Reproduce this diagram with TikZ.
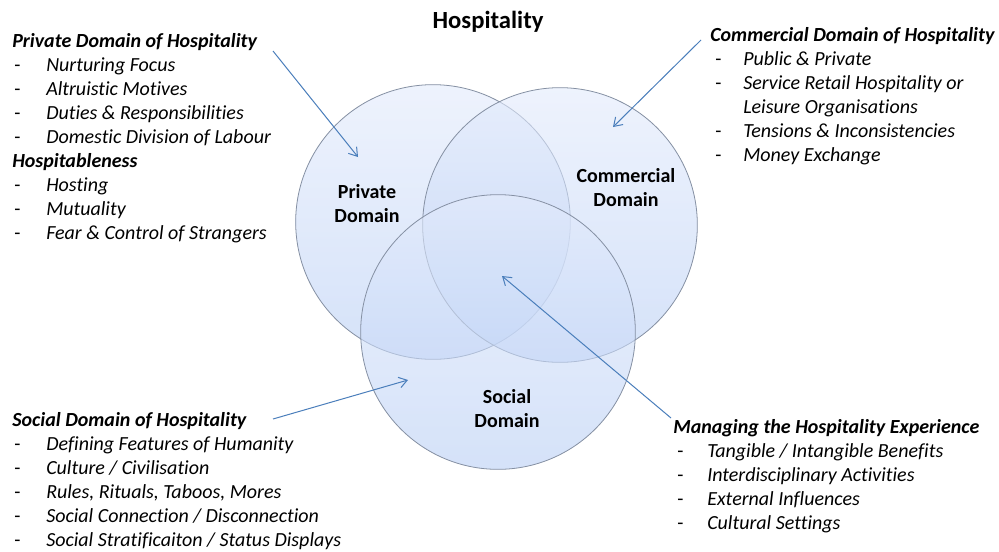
\documentclass[tikz,border=0pt]{standalone}
\usepackage{fontspec}
\setmainfont{Carlito}[Ligatures=NoCommon]
\usetikzlibrary{arrows.meta}
\definecolor{arrowblue}{HTML}{4A7EBB}
\definecolor{ringgray}{HTML}{8590A3}
\definecolor{circtop}{HTML}{E3EBFC}
\definecolor{circbot}{HTML}{B9CFF5}
\newcommand\itm[1]{-&\textit{#1}\\}
\newcommand\cont[1]{&\textit{#1}\\}
\newcommand\hdr[1]{\multicolumn{2}{@{}l@{}}{\bfseries\itshape #1}\\}
\tikzset{
  venn/.style={circle, minimum size=206pt, inner sep=0pt, draw=ringgray, line width=0.6pt,
    top color=circtop, bottom color=circbot, fill opacity=0.6, draw opacity=1},
  lbl/.style={font=\fontsize{15}{18}\selectfont\bfseries, inner sep=0pt, anchor=base},
  blk/.style={font=\fontsize{15}{18}\selectfont, inner sep=0pt, anchor=base west},
  pointer/.style={draw=arrowblue, line width=0.75pt, -{Straight Barb[length=6pt,width=8pt,line width=0.75pt]}}
}
\begin{document}
\begin{tikzpicture}[x=0.75pt,y=-0.75pt]
\useasboundingbox (0,0) rectangle (999,551);
\fill[white] (0,0) rectangle (999,551);
% circles
\node[venn] (priv) at (433,222) {};
\node[venn] (comm) at (560,225) {};
\node[venn] (soc) at (498,332) {};
% title
\node[font=\fontsize{18.5}{22}\selectfont\bfseries, inner sep=0pt, anchor=base] (title) at (488,28) {Hospitality};
% circle labels
\node[lbl] (privlbl) at (367,198) {\begin{tabular}[t]{@{}c@{}}Private\\Domain\end{tabular}};
\node[lbl] (commlbl) at (626,182) {\begin{tabular}[t]{@{}c@{}}Commercial\\Domain\end{tabular}};
\node[lbl] (soclbl) at (507,403) {\begin{tabular}[t]{@{}c@{}}Social\\Domain\end{tabular}};
% text blocks
\node[blk] (privtxt) at (12,47) {\begin{tabular}[t]{@{\hspace{1.5pt}}p{24pt}@{}l@{}}
\hdr{Private Domain of Hospitality}
\itm{Nurturing Focus}
\itm{Altruistic Motives}
\itm{Duties \& Responsibilities}
\itm{Domestic Division of Labour}
\hdr{Hospitableness}
\itm{Hosting}
\itm{Mutuality}
\itm{Fear \& Control of Strangers}
\end{tabular}};
\node[blk] (commtxt) at (710,41) {\begin{tabular}[t]{@{\hspace{3.75pt}}p{21pt}@{}l@{}}
\hdr{Commercial Domain of Hospitality}
\itm{Public \& Private}
\itm{Service Retail Hospitality or}
\cont{Leisure Organisations}
\itm{Tensions \& Inconsistencies}
\itm{Money Exchange}
\end{tabular}};
\node[blk] (soctxt) at (12,426) {\begin{tabular}[t]{@{\hspace{1.5pt}}p{24pt}@{}l@{}}
\hdr{Social Domain of Hospitality}
\itm{Defining Features of Humanity}
\itm{Culture / Civilisation}
\itm{Rules, Rituals, Taboos, Mores}
\itm{Social Connection / Disconnection}
\itm{Social Stratificaiton / Status Displays}
\end{tabular}};
\node[blk] (mgmttxt) at (673,433) {\begin{tabular}[t]{@{\hspace{3pt}}p{22.5pt}@{}l@{}}
\hdr{Managing the Hospitality Experience}
\itm{Tangible / Intangible Benefits}
\itm{Interdisciplinary Activities}
\itm{External Influences}
\itm{Cultural Settings}
\end{tabular}};
% arrow ends
\coordinate (pa0) at (273,51);
\coordinate (pa1) at (358,157);
\coordinate (ca0) at (701,40);
\coordinate (ca1) at (613,127);
\coordinate (sa0) at (273,419);
\coordinate (sa1) at (408,380);
\coordinate (ma0) at (671,418);
\coordinate (ma1) at (502,276);
\draw[pointer] (pa0) -- (pa1);
\draw[pointer] (ca0) -- (ca1);
\draw[pointer] (sa0) -- (sa1);
\draw[pointer] (ma0) -- (ma1);
\end{tikzpicture}
\end{document}
